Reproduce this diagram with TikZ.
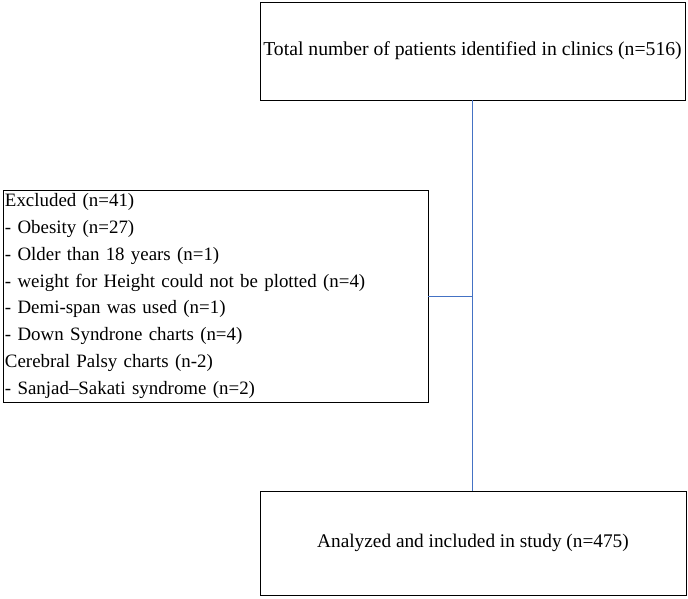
\documentclass[tikz,border=0pt]{standalone}
\usepackage{fontspec}
\setmainfont{Liberation Serif}
\definecolor{linkblue}{RGB}{68,114,196}
\tikzset{
  box/.style={draw=black, line width=0.9pt, rectangle, inner sep=1pt},
  link/.style={draw=linkblue, line width=1pt}
}
\begin{document}
\begin{tikzpicture}[x=1pt,y=-1pt]
\useasboundingbox (0,0) rectangle (688,598);
\node[box, minimum width=425pt, minimum height=98pt, font=\fontsize{19.7}{24}\selectfont] (top) at (472.5,51) {Total number of patients identified in clinics (n=516)};
\node[box, minimum width=426pt, minimum height=104pt, font=\fontsize{19.3}{24}\selectfont] (bot) at (473,543) {Analyzed and included in study (n=475)};
\node[box, minimum width=425pt, minimum height=212pt, text width=421pt, align=left, font=\fontsize{18.9}{26.9}\selectfont] (exc) at (215.5,296) {Excluded (n=41)\\
- Obesity (n=27)\\
- Older than 18 years (n=1)\\
- weight for Height could not be plotted (n=4)\\
- Demi-span was used (n=1)\\
- Down Syndrone charts (n=4)\\
Cerebral Palsy charts (n-2)\\
- Sanjad--Sakati syndrome (n=2)};
\coordinate (j) at (472,296);
\draw[link] (top.south -| j) -- (bot.north -| j);
\draw[link] (exc.east) -- (j);
\end{tikzpicture}
\end{document}
